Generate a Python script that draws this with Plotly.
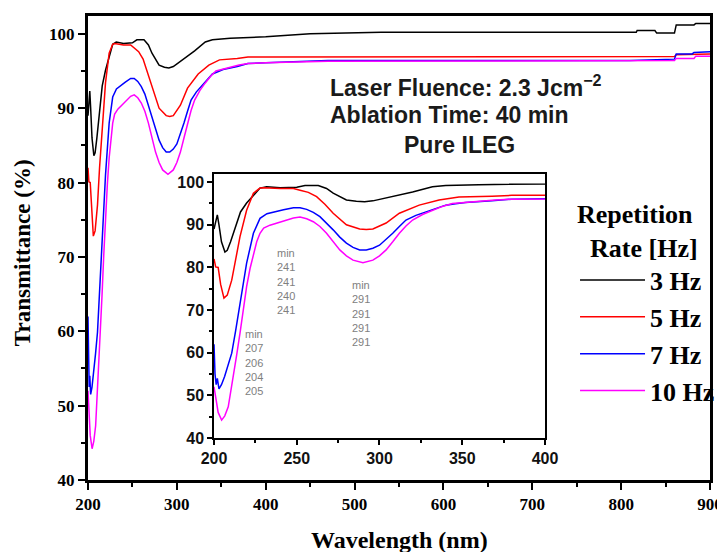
import plotly.graph_objs as go

SERIF = "Liberation Serif"
SANS = "Liberation Sans"

NAMES = ["3 Hz", "5 Hz", "7 Hz", "10 Hz"]
COLORS = ["#000000", "#ff0000", "#0000ff", "#ff00ff"]

wl_3hz = [200, 201, 202, 203, 204.5, 206.6, 208, 210, 213.7, 216, 219.7, 224, 227.8, 231.8,
          240, 250, 255, 263, 268, 272, 280, 286, 291, 296, 308, 320, 332, 340, 360, 400,
          450, 500, 530, 817, 818, 838, 840, 860, 862, 882, 884, 900]
t_3hz = [89, 91, 92.3, 90, 86, 83.6, 84, 86, 90.4, 93, 95.1, 97, 98.6, 98.9,
         98.7, 98.8, 99.2, 99.2, 98.5, 97.4, 95.8, 95.5, 95.4, 95.6, 96.6, 97.7, 98.9, 99.2, 99.4, 99.6,
         100.0, 100.1, 100.2, 100.2, 100.45, 100.45, 100.1, 100.1, 101.2, 101.2, 101.4, 101.4]

wl_5hz = [200, 201, 202.5, 204, 206, 208, 210.7, 213, 215.7, 219.7, 223.8, 227.8, 230, 240,
          248, 252, 257, 262, 267, 272, 280, 288, 292, 296, 304, 312, 324, 336, 348, 368,
          380, 400, 860, 862, 900]
t_5hz = [82, 80.1, 80, 76, 72.8, 73.5, 77, 82, 87.2, 93.4, 97.4, 98.6, 98.7, 98.5,
         98.5, 98.1, 97.6, 96.6, 94.8, 92.7, 90, 89, 88.9, 89, 90.4, 92.7, 94.6, 95.8, 96.5, 96.7,
         96.9, 96.9, 96.95, 97.2, 97.3]

wl_7hz = [200, 200.6, 201.3, 202, 203, 204.5, 206.4, 208.5, 210.7, 213, 215.7, 219.7, 223.8,
          227.8, 232, 235.9, 242, 248, 252, 256, 260, 264, 268, 272, 276, 280, 284, 288, 292,
          296, 300, 304, 308, 312, 316, 322, 328, 334, 340, 346, 352, 368, 380, 400, 470, 810,
          860, 862, 880, 882, 900]
t_7hz = [62, 55, 52.5, 54, 51.5, 52.5, 54.4, 57, 59.9, 65, 71.6, 81, 88,
         91.5, 92.6, 93, 93.5, 94, 94, 93.6, 92.9, 91.9, 90.4, 88.8, 87.1, 85.7, 84.7, 84.1, 84.1,
         84.5, 85.2, 86.5, 88, 89.6, 91.1, 92.2, 93, 93.9, 94.6, 94.9, 95.2, 95.6, 96.0, 96.1, 96.4, 96.4,
         96.6, 97.3, 97.3, 97.5, 97.6]

wl_10hz = [200, 201, 202.5, 204.6, 206.5, 208.6, 210, 211.7, 213.7, 215.7, 217.7, 219.7, 221.8,
           223.8, 225.8, 227.8, 230, 233.8, 238, 244, 248, 252, 256, 260, 264, 268, 272, 276,
           280, 284, 290, 296, 300, 304, 308, 312, 316, 320, 326, 332, 338, 344, 356, 370, 380,
           400, 470, 820, 860, 862, 882, 884, 900]
t_10hz = [52, 49.5, 46, 44.2, 45.2, 47.3, 50.5, 54.4, 59.5, 64.6, 70.2, 75.5, 79.8,
          83.3, 86, 88, 89.2, 89.9, 90.4, 91.1, 91.6, 91.8, 91.4, 90.7, 89.6, 88, 86, 84.1,
          82.7, 81.7, 81.1, 81.7, 82.7, 84.1, 86, 88, 89.7, 91.1, 92.4, 93.4, 94.3, 95, 95.4, 95.8, 96.0,
          96.1, 96.3, 96.3, 96.4, 96.7, 96.7, 97.0, 97.0]

SERIES = [(wl_3hz, t_3hz), (wl_5hz, t_5hz), (wl_7hz, t_7hz), (wl_10hz, t_10hz)]

# minima read at the three bands, listed 3, 5, 7, 10 Hz
min_band1 = [207, 206, 204, 205]
min_band2 = [241, 241, 240, 241]
min_band3 = [291, 291, 291, 291]

MAIN_X_TICKS = [200, 300, 400, 500, 600, 700, 800, 900]
MAIN_Y_TICKS = [40, 50, 60, 70, 80, 90, 100]
INSET_X_TICKS = [200, 250, 300, 350, 400]
INSET_Y_TICKS = [40, 50, 60, 70, 80, 90, 100]


def plot():
    fig = go.Figure()
    for (wl, t), name, color in zip(SERIES, NAMES, COLORS):
        fig.add_trace(go.Scatter(x=wl, y=t, mode='lines', name=name, legendgroup=name,
                                 line=dict(color=color, width=1.5)))
    for (wl, t), name, color in zip(SERIES, NAMES, COLORS):
        fig.add_trace(go.Scatter(x=wl, y=t, mode='lines', name=name, showlegend=False,
                                 xaxis='x2', yaxis='y2',
                                 line=dict(color=color, width=1.5)))

    main_tick = dict(family=SERIF, size=17, color='black', weight='bold')
    inset_tick = dict(family=SANS, size=16, color='#111', weight='bold')

    # the page body adds an 8px offset; margins are shifted to compensate
    fig.update_layout(
        width=725, height=552,
        margin=dict(l=80, r=23, t=8, b=80),
        paper_bgcolor='white', plot_bgcolor='white',
        showlegend=True,
        xaxis=dict(range=[200, 900], tickvals=MAIN_X_TICKS, showgrid=False, zeroline=False,
                   showline=True, linecolor='black', linewidth=3, mirror=True, automargin=False,
                   ticks='outside', ticklen=7, tickwidth=2, tickcolor='black',
                   minor=dict(dtick=50, ticks='outside', ticklen=4, tickwidth=2, tickcolor='black'),
                   tickfont=main_tick),
        yaxis=dict(range=[40, 102.4], tickvals=MAIN_Y_TICKS, showgrid=False, zeroline=False,
                   showline=True, linecolor='black', linewidth=3, mirror=True, automargin=False,
                   ticks='outside', ticklen=7, tickwidth=2, tickcolor='black',
                   minor=dict(dtick=5, ticks='outside', ticklen=4, tickwidth=2, tickcolor='black'),
                   tickfont=main_tick),
        xaxis2=dict(domain=[0.2026, 0.7347], anchor='y2', range=[200, 400], tickvals=INSET_X_TICKS,
                    showgrid=False, zeroline=False, showline=True, linecolor='black', linewidth=1.5,
                    mirror=True, ticks='outside', ticklen=5, tickwidth=1.5, tickcolor='black',
                    minor=dict(dtick=25, ticks='outside', ticklen=3, tickwidth=1.5, tickcolor='black'),
                    tickfont=inset_tick, automargin=False),
        yaxis2=dict(domain=[0.0905, 0.6595], anchor='x2', range=[40, 101.9], tickvals=INSET_Y_TICKS,
                    showgrid=False, zeroline=False, showline=True, linecolor='black', linewidth=1.5,
                    mirror=True, ticks='outside', ticklen=5, tickwidth=1.5, tickcolor='black',
                    minor=dict(dtick=5, ticks='outside', ticklen=3, tickwidth=1.5, tickcolor='black'),
                    tickfont=inset_tick, automargin=False),
        legend=dict(x=0.783, y=0.627, xanchor='left', yanchor='top', bgcolor='rgba(0,0,0,0)',
                    font=dict(family=SERIF, size=26, color='black', weight='bold'),
                    title=dict(text='Repetition<br>  Rate [Hz]', side='top',
                               font=dict(family=SERIF, size=26, color='black', weight='bold')),
                    tracegroupgap=0, itemwidth=65),
    )

    # axis titles
    fig.add_annotation(text='Transmittance (%)', xref='paper', yref='paper', x=-0.106, y=0.489,
                       xanchor='center', yanchor='middle', textangle=-90, showarrow=False,
                       font=dict(family=SERIF, size=23, color='black', weight='bold'))
    fig.add_annotation(text='Wavelength (nm)', xref='paper', yref='paper', x=0.5016, y=-0.129,
                       xanchor='center', yanchor='middle', showarrow=False,
                       font=dict(family=SERIF, size=24, color='black', weight='bold'))

    # condition text
    cond_font = dict(family=SANS, size=23, color='#1a1a1a', weight='bold')
    fig.add_annotation(text='Laser Fluence: 2.3 Jcm<sup>\u22122</sup>', xref='paper', yref='paper',
                       x=0.386, y=0.849, xanchor='left', yanchor='middle', showarrow=False,
                       font=cond_font)
    fig.add_annotation(text='Ablation Time: 40 min', xref='paper', yref='paper',
                       x=0.386, y=0.787, xanchor='left', yanchor='middle', showarrow=False,
                       font=cond_font)
    fig.add_annotation(text='Pure ILEG', xref='paper', yref='paper',
                       x=0.598, y=0.722, xanchor='center', yanchor='middle', showarrow=False,
                       font=cond_font)

    # minima labels inside the inset
    min_font = dict(family=SANS, size=11, color='#808080')
    for vals, xpos, ytop in [(min_band2, 236.9, 85.2), (min_band3, 282.2, 77.7), (min_band1, 217.5, 66.3)]:
        txt = 'min<br>' + '<br>'.join(str(v) for v in vals)
        fig.add_annotation(text=txt, xref='x2', yref='y2', x=xpos, y=ytop, xanchor='left',
                           yanchor='top', align='left', showarrow=False, font=min_font)

    fig.write_html("out.html")


if __name__ == '__main__':
    plot()
